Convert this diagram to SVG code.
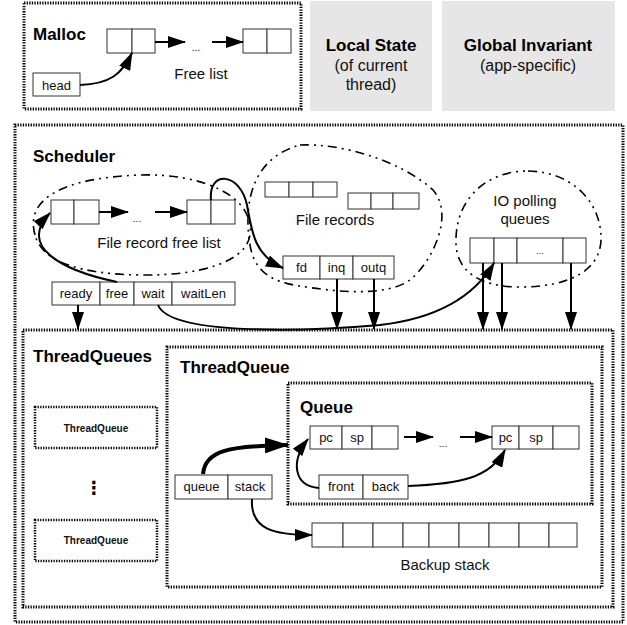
<svg xmlns="http://www.w3.org/2000/svg" width="627" height="625" viewBox="0 0 627 625">
<defs>
<style>
.frame{fill:none;stroke:#000;stroke-width:3;stroke-dasharray:1.3 1.3}
.sframe{fill:none;stroke:#000;stroke-width:2.5;stroke-dasharray:1.3 1.3}
.cell{fill:#fff;stroke:#333;stroke-width:1}
.blob{fill:none;stroke:#000;stroke-width:1.6;stroke-dasharray:9 5 2 5 2 5}
.gray{fill:#e6e6e6;stroke:none}
.t{font-family:"Liberation Sans",Arial,sans-serif;fill:#111}
.title{font-family:"Liberation Sans",Arial,sans-serif;font-weight:bold;font-size:17px;fill:#000}
.lbl{font-size:15px}
.small{font-size:13px;text-anchor:middle}
.mid{text-anchor:middle}
.conn{fill:none;stroke:#000;stroke-width:2}
.thick{stroke-width:4}
</style>
<marker id="ah" markerUnits="userSpaceOnUse" markerWidth="18" markerHeight="12" refX="17" refY="6" orient="auto" viewBox="0 0 18 12">
<path d="M0,0 L18,6 L0,12 Z" fill="#000"/>
</marker>
<marker id="ahb" markerUnits="userSpaceOnUse" markerWidth="24" markerHeight="16" refX="23" refY="8" orient="auto" viewBox="0 0 24 16">
<path d="M0,0 L24,8 L0,16 Z" fill="#000"/>
</marker>
</defs>
<rect width="627" height="625" fill="#fff"/>

<g id="malloc">
<rect class="frame" x="24" y="3" width="277" height="106"/>
<text class="title" x="33" y="40">Malloc</text>
<rect class="cell" x="107" y="29" width="25" height="24"/>
<rect class="cell" x="132" y="29" width="23" height="24"/>
<rect class="cell" x="243" y="29" width="24" height="24"/>
<rect class="cell" x="267" y="29" width="24" height="24"/>
<text class="t mid" x="196" y="51" font-size="10">...</text>
<text class="t lbl mid" x="201" y="79">Free list</text>
<rect class="cell" x="33" y="73" width="47" height="23"/>
<text class="t small" x="56.5" y="90">head</text>
</g>

<g id="local-state">
<rect class="gray" x="310" y="1" width="122" height="110"/>
<text class="title mid" x="371" y="51">Local State</text>
<text class="t mid" x="371" y="71" font-size="16">(of current</text>
<text class="t mid" x="371" y="90" font-size="16">thread)</text>
</g>

<g id="global-invariant">
<rect class="gray" x="442" y="1" width="173" height="110"/>
<text class="title mid" x="528" y="51">Global Invariant</text>
<text class="t mid" x="528" y="71" font-size="16">(app-specific)</text>
</g>

<g id="scheduler">
<rect class="frame" x="15" y="125" width="608" height="497"/>
<text class="title" x="33" y="162">Scheduler</text>
</g>

<g id="file-record-free-list">
<path class="blob" d="M35,235 C25,200 60,178 140,175 C200,173 255,195 250,235 C246,262 200,276 140,275 C80,274 42,262 35,235 Z"/>
<rect class="cell" x="51" y="200" width="23" height="24"/>
<rect class="cell" x="74" y="200" width="25" height="24"/>
<rect class="cell" x="187" y="200" width="24" height="24"/>
<rect class="cell" x="211" y="200" width="24" height="24"/>
<text class="t mid" x="137" y="222" font-size="10">...</text>
<text class="t lbl mid" x="159" y="248">File record free list</text>
</g>

<g id="file-records">
<path class="blob" d="M300,145 C340,143 400,160 433,190 C455,215 432,262 410,280 C385,298 330,291 300,286 C270,282 254,270 250,245 C245,215 245,160 300,145 Z"/>
<rect class="cell" x="265" y="182" width="24" height="15"/>
<rect class="cell" x="289" y="182" width="24" height="15"/>
<rect class="cell" x="313" y="182" width="24" height="15"/>
<rect class="cell" x="348" y="193" width="23" height="16"/>
<rect class="cell" x="371" y="193" width="22" height="16"/>
<rect class="cell" x="393" y="193" width="26" height="16"/>
<text class="t lbl mid" x="335" y="225">File records</text>
<rect class="cell" x="283" y="256" width="37" height="23"/>
<rect class="cell" x="320" y="256" width="33" height="23"/>
<rect class="cell" x="353" y="256" width="41" height="23"/>
<text class="t small" x="301.5" y="272">fd</text>
<text class="t small" x="336.5" y="272">inq</text>
<text class="t small" x="373.5" y="272">outq</text>
</g>

<g id="io-polling-queues">
<path class="blob" d="M528,171 C575,172 602,205 601,240 C600,270 570,287 520,287 C478,287 455,270 456,240 C456,200 485,171 528,171 Z"/>
<text class="t lbl mid" x="525" y="206">IO polling</text>
<text class="t lbl mid" x="525" y="224">queues</text>
<rect class="cell" x="470" y="238" width="24" height="25"/>
<rect class="cell" x="494" y="238" width="23" height="25"/>
<rect class="cell" x="517" y="238" width="46" height="25"/>
<rect class="cell" x="563" y="238" width="23" height="25"/>
<text class="t mid" x="540" y="254" font-size="9">...</text>
</g>

<g id="scheduler-record">
<rect class="cell" x="52" y="282" width="48" height="23"/>
<rect class="cell" x="100" y="282" width="34" height="23"/>
<rect class="cell" x="134" y="282" width="38" height="23"/>
<rect class="cell" x="172" y="282" width="63" height="23"/>
<text class="t small" x="76" y="298">ready</text>
<text class="t small" x="117" y="298">free</text>
<text class="t small" x="153" y="298">wait</text>
<text class="t small" x="203.5" y="298">waitLen</text>
</g>

<g id="threadqueues">
<rect class="frame" x="23" y="330" width="590" height="277"/>
<text class="title" x="33" y="362">ThreadQueues</text>
</g>

<g id="threadqueue-small-1">
<rect class="sframe" x="35" y="407" width="122" height="41"/>
<text class="t mid" x="96" y="432" font-size="10" font-weight="bold">ThreadQueue</text>
</g>
<g id="ellipsis">
<text class="mid" x="94" y="494" font-family="DejaVu Sans,sans-serif" font-size="18" font-weight="bold">⋮</text>
</g>
<g id="threadqueue-small-2">
<rect class="sframe" x="35" y="520" width="122" height="41"/>
<text class="t mid" x="96" y="544" font-size="10" font-weight="bold">ThreadQueue</text>
</g>

<g id="threadqueue">
<rect class="frame" x="167" y="347" width="435" height="240"/>
<text class="title" x="180" y="373">ThreadQueue</text>
<rect class="cell" x="175" y="475" width="53" height="24"/>
<rect class="cell" x="228" y="475" width="44" height="24"/>
<text class="t small" x="201.5" y="491">queue</text>
<text class="t small" x="250" y="491">stack</text>
</g>

<g id="queue">
<rect class="frame" x="288" y="383" width="304" height="121"/>
<text class="title" x="300" y="413">Queue</text>
<rect class="cell" x="310" y="426" width="32" height="23"/>
<rect class="cell" x="342" y="426" width="30" height="23"/>
<rect class="cell" x="372" y="426" width="26" height="23"/>
<text class="t small" x="326" y="442">pc</text>
<text class="t small" x="357" y="442">sp</text>
<rect class="cell" x="492" y="426" width="27" height="23"/>
<rect class="cell" x="519" y="426" width="34" height="23"/>
<rect class="cell" x="553" y="426" width="26" height="23"/>
<text class="t small" x="505.5" y="442">pc</text>
<text class="t small" x="536" y="442">sp</text>
<text class="t mid" x="443" y="447" font-size="10">...</text>
<rect class="cell" x="319" y="475" width="44" height="24"/>
<rect class="cell" x="363" y="475" width="45" height="24"/>
<text class="t small" x="341" y="491">front</text>
<text class="t small" x="385.5" y="491">back</text>
</g>

<g id="backup-stack">
<rect class="cell" x="312" y="523" width="31" height="24"/>
<rect class="cell" x="343" y="523" width="30" height="24"/>
<rect class="cell" x="373" y="523" width="30" height="24"/>
<rect class="cell" x="403" y="523" width="26" height="24"/>
<rect class="cell" x="429" y="523" width="30" height="24"/>
<rect class="cell" x="459" y="523" width="30" height="24"/>
<rect class="cell" x="489" y="523" width="30" height="24"/>
<rect class="cell" x="519" y="523" width="30" height="24"/>
<rect class="cell" x="549" y="523" width="28" height="24"/>
<text class="t lbl mid" x="445" y="570">Backup stack</text>
</g>

<g id="connectors">
<path class="conn" d="M155,42 L185,42" marker-end="url(#ah)"/>
<path class="conn" d="M212,42 L243,42" marker-end="url(#ah)"/>
<path class="conn" d="M80,85 C110,84 122,74 132,53" marker-end="url(#ah)"/>
<path class="conn" d="M99,212 L128,212" marker-end="url(#ah)"/>
<path class="conn" d="M155,212 L187,212" marker-end="url(#ah)"/>
<path class="conn" d="M117,282 C60,270 18,246 50,213" marker-end="url(#ah)"/>
<path class="conn" d="M211,200 C208,170 240,172 247,205 C252,235 256,256 283,268" marker-end="url(#ah)"/>
<path class="conn" d="M78,305 L78,329" marker-end="url(#ah)"/>
<path class="conn" d="M337,279 L337,329" marker-end="url(#ah)"/>
<path class="conn" d="M374,279 L374,329" marker-end="url(#ah)"/>
<path class="conn" d="M483,263 L483,329" marker-end="url(#ah)"/>
<path class="conn" d="M502,263 L502,329" marker-end="url(#ah)"/>
<path class="conn" d="M571,263 L571,329" marker-end="url(#ah)"/>
<path class="conn" d="M158,305 C170,335 300,332 380,325 C440,318 475,295 494,263" marker-end="url(#ah)"/>
<path class="conn thick" d="M203,474 C205,450 230,446 288,445" marker-end="url(#ahb)"/>
<path class="conn" d="M252,499 C250,530 275,535 312,535" marker-end="url(#ah)"/>
<path class="conn" d="M404,437 L433,437" marker-end="url(#ah)"/>
<path class="conn" d="M460,437 L492,437" marker-end="url(#ah)"/>
<path class="conn" d="M319,488 C294,486 290,462 308,439" marker-end="url(#ah)"/>
<path class="conn" d="M408,486 C460,484 490,478 505,450" marker-end="url(#ah)"/>
</g>
</svg>
